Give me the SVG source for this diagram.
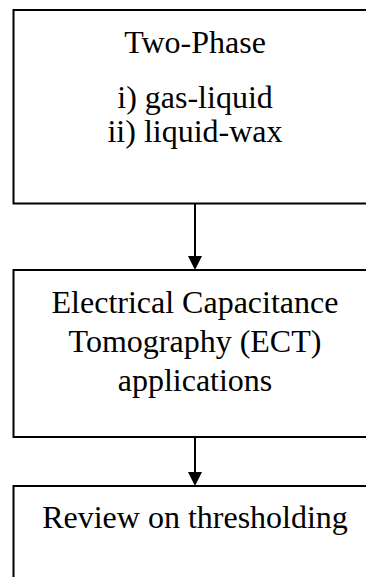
<svg xmlns="http://www.w3.org/2000/svg" width="366" height="577" viewBox="0 0 366 577">
<style>
.box{fill:#fff;stroke:#000;stroke-width:2}
.t{font-family:"Liberation Serif","Times New Roman",serif;font-size:32px;fill:#000;text-anchor:middle}
.c{stroke:#000;stroke-width:2;fill:none}
</style>
<rect width="366" height="577" fill="#fff"/>
<g id="n1">
<rect class="box" x="13.5" y="10" width="380" height="193.5"/>
<text class="t" x="195" y="53">Two-Phase</text>
<text class="t" x="195" y="108">i) gas-liquid</text>
<text class="t" x="195" y="142">ii) liquid-wax</text>
</g>
<g id="n2">
<rect class="box" x="13.5" y="270" width="380" height="167"/>
<text class="t" x="195" y="313">Electrical Capacitance</text>
<text class="t" x="195" y="352">Tomography (ECT)</text>
<text class="t" x="195" y="391">applications</text>
</g>
<g id="n3">
<rect class="box" x="13.5" y="486" width="380" height="120"/>
<text class="t" x="195" y="528">Review on thresholding</text>
</g>
<g id="connectors">
<line class="c" x1="195" y1="204" x2="195" y2="258"/>
<polygon points="188,256 202,256 195,270" fill="#000"/>
<line class="c" x1="195" y1="437" x2="195" y2="474"/>
<polygon points="188,472 202,472 195,486" fill="#000"/>
</g>
</svg>
